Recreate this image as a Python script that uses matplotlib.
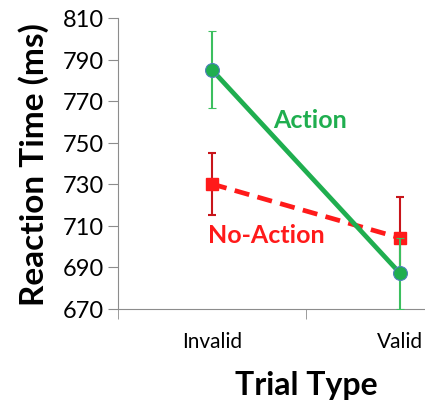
import matplotlib
matplotlib.use("Agg")
import matplotlib.pyplot as plt

# Data
trial_types = ["Invalid", "Valid"]
action_rt = [785, 687]
action_err = [18.5, 17]
noaction_rt = [730, 704]
noaction_err = [15, 19.5]
yticks = [670, 690, 710, 730, 750, 770, 790, 810]

plt.rcParams["font.family"] = ["Lato", "DejaVu Sans"]

green = "#1fae4f"
red = "#ff1a1a"
axis_gray = "#8c8c8c"

W, H = 425, 402
fig = plt.figure(figsize=(W / 100, H / 100), dpi=100)
# the category axis runs past the right edge of the picture, as in the original
ax = fig.add_axes([118 / W, 1 - 309.5 / H, 376 / W, 290.5 / H])

x = list(range(len(trial_types)))

ax.errorbar(x, action_rt, yerr=action_err, color=green, lw=3.4, marker="o",
            ms=10, mfc=green, mec="#4f81bd", mew=0.8,
            ecolor="#3cbf5f", elinewidth=1.5, capsize=3, capthick=1.5, zorder=3)
ax.errorbar(x, noaction_rt, yerr=noaction_err, color=red, lw=3.4, ls=(0, (3.2, 1.8)),
            marker="s", ms=8, mfc=red, mec=red,
            ecolor="#c8151b", elinewidth=1.5, capsize=3, capthick=1.5, zorder=2)

fig.text(273 / W, 1 - 120 / H, "Action", color=green, fontsize=18,
         fontweight="bold", va="center", ha="left")
fig.text(208 / W, 1 - 236 / H, "No-Action", color=red, fontsize=18,
         fontweight="bold", va="center", ha="left")

ax.set_ylim(670, 810)
ax.set_yticks(yticks)
ax.set_xlim(-0.5, 1.5)
ax.set_xticks(x)
ax.set_xticklabels(trial_types, fontsize=15)
ax.set_xticks([-0.5, 0.5, 1.5], minor=True)
ax.tick_params(axis="x", which="major", length=0, pad=16)
ax.tick_params(axis="x", which="minor", length=7, color=axis_gray)
ax.tick_params(axis="y", length=7, color=axis_gray, labelsize=17, pad=3)

for s in ["top", "right"]:
    ax.spines[s].set_visible(False)
for s in ["left", "bottom"]:
    ax.spines[s].set_color(axis_gray)

ax.set_ylabel("Reaction Time (ms)", fontsize=24, fontweight="bold", labelpad=10)
ax.set_xlabel("Trial Type", fontsize=23, fontweight="bold", labelpad=14)

fig.savefig("out.png", dpi=100)
